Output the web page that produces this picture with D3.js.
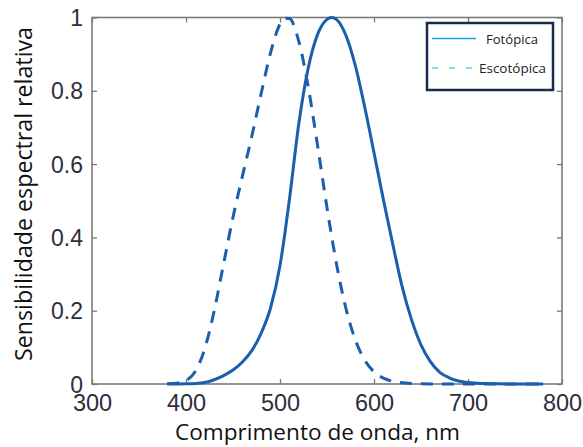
<!DOCTYPE html>
<html><head><meta charset="utf-8">
<script src="https://cdn.jsdelivr.net/npm/d3@7"></script>
<style>html,body{margin:0;padding:0;background:#fff;} svg{display:block;}</style>
</head><body>
<script>
// Data (CIE luminous efficiency, read against the picture)
const wavelengths = [380,390,400,410,420,430,440,450,460,470,480,490,500,505,510,520,530,540,550,555,560,570,580,590,600,610,620,630,640,650,660,670,680,690,700,710,720,730,740,750,760,770,780];
const photopic = [0.000039,0.00012,0.000396,0.00121,0.004,0.0116,0.023,0.038,0.06,0.09098,0.13902,0.20802,0.323,0.4073,0.503,0.71,0.862,0.954,0.99495,1.0,0.995,0.952,0.87,0.757,0.631,0.503,0.381,0.265,0.175,0.107,0.061,0.032,0.017,0.00821,0.004102,0.002091,0.001047,0.00052,0.000249,0.00012,0.00006,0.00003,0.000015];
const scotopic = [0.000589,0.002209,0.00929,0.03484,0.0966,0.1998,0.3281,0.455,0.567,0.676,0.793,0.904,0.982,0.998,0.997,0.935,0.811,0.65,0.481,0.402,0.3288,0.2076,0.1212,0.0655,0.03315,0.01593,0.00737,0.003335,0.001497,0.000677,0.000313,0.000148,0.0000715,0.000035,0.0000178,0.0000091,0.0000048,0.0000025,0.0000014,0.0000008,0.0000004,0.0000002,0.0000001];
const xTicks = [300,400,500,600,700,800];
const yTicks = [0,0.2,0.4,0.6,0.8,1];
const xLabel = "Comprimento de onda, nm";
const yLabel = "Sensibilidade espectral relativa";
const legendLabels = ["Fotópica","Escotópica"];

const W = 583, H = 447;
const svg = d3.select("body").append("svg").attr("width", W).attr("height", H);

const x = d3.scaleLinear().domain([300,800]).range([92,562]);
const y = d3.scaleLinear().domain([0,1]).range([384,17.5]);

const frameColor = "#7a7a7a";
const tickText = "#2e2e3a";

// axes
const gx = svg.append("g").attr("transform","translate(0,384)")
  .call(d3.axisBottom(x).tickValues(xTicks).tickSizeInner(-5).tickSizeOuter(0).tickFormat(d3.format("d")));
const gxt = svg.append("g").attr("transform","translate(0,17.5)")
  .call(d3.axisTop(x).tickValues(xTicks).tickSizeInner(-5).tickSizeOuter(0).tickFormat(""));
const gy = svg.append("g").attr("transform","translate(92,0)")
  .call(d3.axisLeft(y).tickValues(yTicks).tickSizeInner(-5).tickSizeOuter(0)
    .tickFormat(d => d===0 ? "0" : d===1 ? "1" : d.toFixed(1)));
const gyr = svg.append("g").attr("transform","translate(562,0)")
  .call(d3.axisRight(y).tickValues(yTicks).tickSizeInner(-5).tickSizeOuter(0).tickFormat(""));

[gx,gxt,gy,gyr].forEach(g => {
  g.select(".domain").remove();
  g.selectAll(".tick line").attr("stroke", frameColor).attr("stroke-width", 1.3);
  g.selectAll("text").attr("font-family","'Liberation Sans', Arial, sans-serif")
    .attr("font-size", 23.5).attr("fill", tickText);
});
gx.selectAll(".tick text").attr("dy", null).attr("y", 27);
gy.selectAll(".tick text").attr("dy","0.35em").attr("x", -9).attr("font-size", 23);

// frame
svg.append("rect").attr("x",92).attr("y",17.5).attr("width",470).attr("height",366.5)
  .attr("fill","none").attr("stroke",frameColor).attr("stroke-width",1.6);

// curves
const lineColor = "#1a5fad";
const line = d3.line().x((d,i)=>x(wavelengths[i])).y(d=>y(d)).curve(d3.curveMonotoneX);
svg.append("path").datum(scotopic).attr("d", line).attr("fill","none")
  .attr("stroke", lineColor).attr("stroke-width", 3).attr("stroke-dasharray","12,9");
svg.append("path").datum(photopic).attr("d", line).attr("fill","none")
  .attr("stroke", lineColor).attr("stroke-width", 3);

// axis titles
svg.append("text").attr("x", 317.5).attr("y", 440).attr("text-anchor","middle")
  .attr("font-family","'Open Sans', sans-serif").attr("font-size", 21).attr("fill","#111")
  .attr("textLength", 285).attr("lengthAdjust","spacingAndGlyphs").text(xLabel);
svg.append("text").attr("transform","translate(32,194) rotate(-90)").attr("text-anchor","middle")
  .attr("font-family","'Open Sans', sans-serif").attr("font-size", 23).attr("fill","#111")
  .attr("textLength", 334).attr("lengthAdjust","spacingAndGlyphs").text(yLabel);

// legend
const lg = svg.append("g");
lg.append("rect").attr("x",427).attr("y",23).attr("width",126).attr("height",67)
  .attr("fill","#fff").attr("stroke","#1b2a4a").attr("stroke-width",2.5);
lg.append("line").attr("x1",432).attr("x2",476).attr("y1",38.5).attr("y2",38.5)
  .attr("stroke","#10a6e6").attr("stroke-width",1.5);
lg.append("line").attr("x1",432).attr("x2",479).attr("y1",68).attr("y2",68)
  .attr("stroke","#6cc8f0").attr("stroke-width",1.5).attr("stroke-dasharray","6,11");
lg.append("text").attr("x",486).attr("y",43.5).attr("font-family","'Open Sans', sans-serif")
  .attr("font-size",13).attr("fill","#222").attr("textLength",52).attr("lengthAdjust","spacingAndGlyphs")
  .text(legendLabels[0]);
lg.append("text").attr("x",479).attr("y",73).attr("font-family","'Open Sans', sans-serif")
  .attr("font-size",13).attr("fill","#222").attr("textLength",67).attr("lengthAdjust","spacingAndGlyphs")
  .text(legendLabels[1]);
</script>
</body></html>
